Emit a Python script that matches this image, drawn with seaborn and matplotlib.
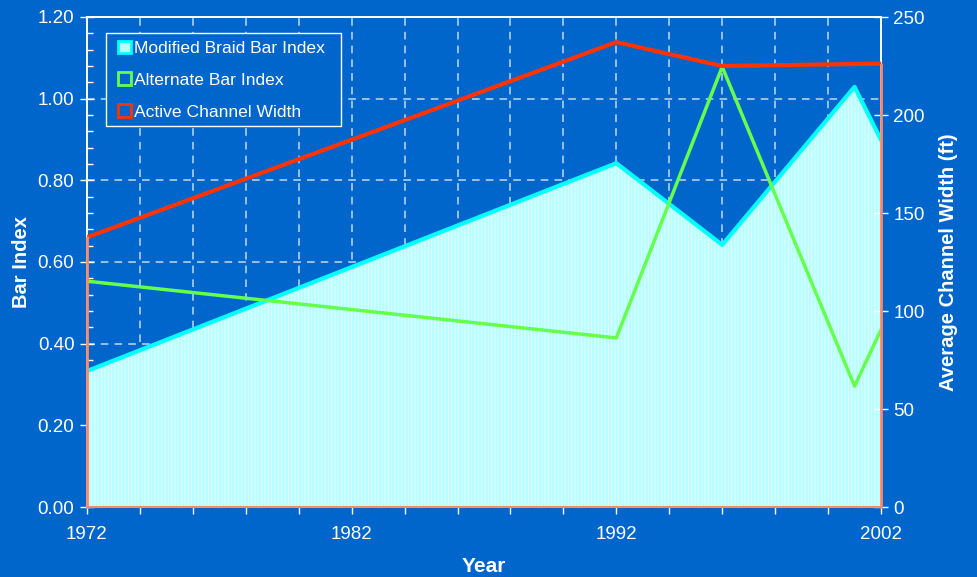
import matplotlib
matplotlib.use("Agg")
import matplotlib.pyplot as plt
from matplotlib.patches import Patch, Rectangle
from matplotlib.ticker import FixedLocator, FuncFormatter, MultipleLocator
import numpy as np
import pandas as pd
import seaborn as sns

# Survey years and measured indices
years = [1972, 1992, 1996, 2001, 2002]
braid_index = [0.333, 0.842, 0.642, 1.029, 0.899]
alternate_index = [0.553, 0.414, 1.078, 0.296, 0.434]
channel_width = [137.6, 237.2, 225.0, 226.0, 226.2]

series_names = ["Modified Braid Bar Index", "Alternate Bar Index", "Active Channel Width"]

BG = "#0066CC"
CYAN = "#00FFFF"
FILL = "#B8FFFF"
STRIPE = "#E4FFFF"
GREEN = "#66FF4D"
RED = "#FF3300"
SALMON = "#FF8866"

sns.set_theme(style="white")
plt.rcParams["font.family"] = ["Liberation Sans", "DejaVu Sans"]
plt.rcParams["hatch.linewidth"] = 0.6

df = pd.DataFrame({"Year": years, "braid": braid_index,
                   "alt": alternate_index, "width": channel_width})

fig = plt.figure(figsize=(9.78, 5.77), dpi=100, facecolor=BG)
ax = fig.add_axes([87 / 978, 1 - 507 / 577, 794 / 978, 490 / 577])
ax.set_facecolor(BG)

# Braid index as a filled area with a fine vertical stripe texture
ax.fill_between(df["Year"], 0, df["braid"], facecolor=FILL, edgecolor=STRIPE,
                hatch="|||||", linewidth=0, zorder=2)
sns.lineplot(data=df, x="Year", y="braid", color=CYAN, linewidth=3,
             ax=ax, zorder=3, legend=False)
sns.lineplot(data=df, x="Year", y="alt", color=GREEN, linewidth=2.5,
             ax=ax, zorder=4, legend=False)

ax.set_xlim(1972, 2002)
ax.set_ylim(0, 1.2)

# Right axis: channel width
ax2 = ax.twinx()
sns.lineplot(data=df, x="Year", y="width", color=RED, linewidth=3,
             ax=ax2, zorder=5, legend=False)
ax2.plot([years[0], years[0]], [0, channel_width[0]], color=SALMON, lw=2,
         clip_on=False, zorder=5)
ax2.plot([years[-1], years[-1]], [0, channel_width[-1]], color=SALMON, lw=2,
         clip_on=False, zorder=5)
ax2.plot([years[0], years[-1]], [0, 0], color=SALMON, lw=1.5,
         clip_on=False, zorder=5)
ax2.set_ylim(0, 250)
ax2.set_xlim(1972, 2002)

# Grid: dashed white lines at every 2 years and every 0.2 of the index
grid_kw = dict(color="white", linestyle=(0, (5, 4)), linewidth=1.1, alpha=0.75)
for yr in range(1974, 2002, 2):
    ax.axvline(yr, zorder=1, **grid_kw)
for v in np.arange(0.2, 1.2, 0.2):
    ax.axhline(v, zorder=1, **grid_kw)

# Ticks
ax.xaxis.set_major_locator(FixedLocator(list(range(1972, 2003, 2))))
ax.xaxis.set_major_formatter(FuncFormatter(
    lambda v, p: f"{int(round(v))}" if int(round(v - 1972)) % 10 == 0 else ""))
ax.xaxis.set_minor_locator(FixedLocator(list(range(1973, 2002, 2))))
ax.yaxis.set_major_locator(MultipleLocator(0.2))
ax.yaxis.set_major_formatter(FuncFormatter(lambda v, p: f"{v:.2f}"))
ax.yaxis.set_minor_locator(MultipleLocator(0.04))
ax2.yaxis.set_major_locator(MultipleLocator(50))

ax.tick_params(axis="x", which="major", direction="out", length=5, width=1,
               color="white", labelcolor="white", labelsize=13.5, pad=9,
               bottom=True)
ax.tick_params(axis="x", which="minor", direction="in", length=3, width=1,
               color="white", bottom=True)
ax.tick_params(axis="y", which="major", direction="inout", length=10, width=1,
               color="white", labelcolor="white", labelsize=13.5, pad=4,
               left=True)
ax.tick_params(axis="y", which="minor", direction="in", length=4, width=1,
               color="white", left=True)
ax2.tick_params(axis="y", which="major", direction="inout", length=10, width=1,
                color="white", labelcolor="white", labelsize=13.5, pad=4,
                right=True)

for a in (ax, ax2):
    for s in a.spines.values():
        s.set_color("white")
        s.set_linewidth(1.2)
        s.set_visible(True)

ax.set_xlabel("Year", color="white", fontsize=15, fontweight="bold", labelpad=10)
ax.set_ylabel("Bar Index", color="white", fontsize=14.5, fontweight="bold", labelpad=5)
ax2.set_ylabel("Average Channel Width (ft)", color="white", fontsize=14.5,
               fontweight="bold", labelpad=10)

# Legend box drawn separately so its padding can be set independently
ax2.add_patch(Rectangle((0.0239, 0.7776), 0.296, 0.1898, transform=ax2.transAxes,
                        facecolor=BG, edgecolor="white", linewidth=1, zorder=8))
handles = [
    Patch(facecolor=FILL, edgecolor=CYAN, linewidth=2),
    Patch(facecolor="none", edgecolor=GREEN, linewidth=2),
    Patch(facecolor="none", edgecolor=RED, linewidth=2),
]
leg = ax2.legend(handles, series_names, loc="upper left",
                 bbox_to_anchor=(0.0395, 0.952), frameon=False,
                 fontsize=12.6, handlelength=0.7, handleheight=0.7,
                 handletextpad=0.2, labelspacing=0.95, borderpad=0,
                 borderaxespad=0)
leg.set_zorder(10)
for t in leg.get_texts():
    t.set_color("white")

fig.savefig("out.png", dpi=100, facecolor=BG)
